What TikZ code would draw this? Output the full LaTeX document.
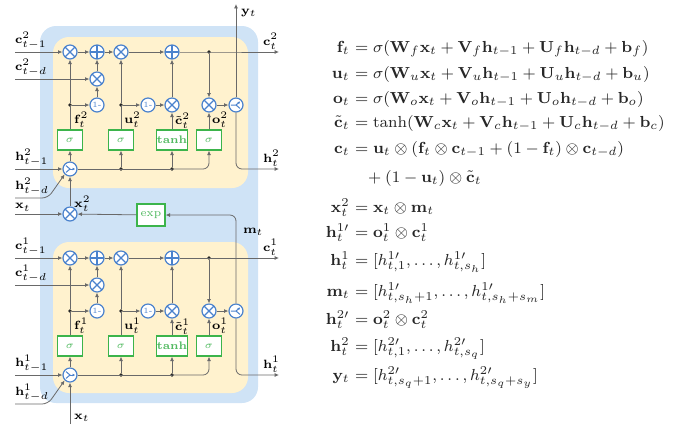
\documentclass[tikz,border=0pt]{standalone}
\usepackage{amsmath}
\usetikzlibrary{arrows.meta,calc}
\definecolor{bgblue}{RGB}{207,227,246}
\definecolor{cellyel}{RGB}{255,242,206}
\definecolor{opblue}{RGB}{74,130,205}
\definecolor{boxgreen}{RGB}{60,180,75}
\definecolor{txtgreen}{RGB}{80,185,95}
\definecolor{wire}{RGB}{105,105,105}
\tikzset{
  wirestyle/.style={draw=wire, line width=0.4pt},
  arr/.style={wirestyle, -{Latex[length=2.2pt,width=2pt]}},
  opc/.style={circle, draw=opblue, fill=white, line width=0.6pt, minimum size=7pt, inner sep=0pt},
  mul/.style={opc, path picture={\draw[opblue, line width=0.6pt]
      (path picture bounding box.north west) -- (path picture bounding box.south east)
      (path picture bounding box.north east) -- (path picture bounding box.south west);}},
  add/.style={opc, path picture={\draw[opblue, line width=0.6pt]
      (path picture bounding box.north) -- (path picture bounding box.south)
      (path picture bounding box.east) -- (path picture bounding box.west);}},
  merge/.style={opc, path picture={\draw[opblue, line width=0.5pt]
      ([shift={(-2pt,1.7pt)}]path picture bounding box.center) -- (path picture bounding box.center)
      -- ([shift={(-2pt,-1.7pt)}]path picture bounding box.center);
      \draw[opblue, line width=0.5pt, -{Latex[length=1.3pt,width=1.4pt]}]
      (path picture bounding box.center) -- ([shift={(2.6pt,0pt)}]path picture bounding box.center);}},
  split/.style={opc, path picture={\draw[opblue, line width=0.5pt]
      ([shift={(-2.6pt,0pt)}]path picture bounding box.center) -- (path picture bounding box.center)
      -- ([shift={(2pt,-1.7pt)}]path picture bounding box.center);
      \draw[opblue, line width=0.5pt, -{Latex[length=1.3pt,width=1.4pt]}]
      (path picture bounding box.center) -- ([shift={(2.1pt,1.8pt)}]path picture bounding box.center);}},
  one/.style={opc, text=opblue, font=\fontsize{4}{5}\selectfont},
  gate/.style={draw=boxgreen, fill=white, line width=0.6pt, minimum width=12.5pt, minimum height=10pt,
      inner sep=0pt, text=txtgreen, font=\fontsize{5.5}{6.5}\selectfont},
  dotn/.style={circle, fill=black!85, inner sep=0pt, minimum size=1.8pt},
  lbl/.style={font=\fontsize{5.6}{6.5}\selectfont, inner sep=0.3pt},
  eq/.style={font=\fontsize{8.3}{10}\selectfont, inner sep=0pt, text=black!85},
}
\begin{document}
\begin{tikzpicture}[x=0.5pt,y=-0.5pt]
\useasboundingbox (0,0) rectangle (679,425);
\fill[bgblue, rounded corners=8pt] (40,26) rectangle (258,403);
\fill[cellyel, rounded corners=8pt] (53,37) rectangle (248,188);
\fill[cellyel, rounded corners=8pt] (53,242) rectangle (248,393);

\foreach \k/\dy in {2/0,1/206} {
  \node[mul] (mA\k) at (70,52+\dy) {};
  \node[add] (pA\k) at (97,52+\dy) {};
  \node[mul] (mB\k) at (121,52+\dy) {};
  \node[add] (pB\k) at (172,52+\dy) {};
  \node[dotn] (dC\k) at (209,52+\dy) {};
  \node[mul] (mD\k) at (97,79+\dy) {};
  \node[one] (oF\k) at (97,105+\dy) {1-};
  \node[dotn] (dF\k) at (70,105+\dy) {};
  \node[dotn] (dU\k) at (121,105+\dy) {};
  \node[one] (oU\k) at (148,105+\dy) {1-};
  \node[mul] (mC\k) at (172,105+\dy) {};
  \node[mul] (mO\k) at (209,105+\dy) {};
  \node[split] (sp\k) at (236,105+\dy) {};
  \node[gate] (bf\k) at (70,140+\dy) {$\sigma$};
  \node[gate] (bu\k) at (121,140+\dy) {$\sigma$};
  \node[gate] (bt\k) at (172,140+\dy) {\textbf{tanh}};
  \node[gate] (bo\k) at (209,140+\dy) {$\sigma$};
  \node[merge] (mg\k) at (70,169+\dy) {};
  \node[dotn] (dhA\k) at (121,169+\dy) {};
  \node[dotn] (dhB\k) at (172,169+\dy) {};
  \coordinate (iC\k) at (15,52+\dy);
  \coordinate (iD\k) at (15,79+\dy);
  \coordinate (iH\k) at (15,169+\dy);
  \coordinate (iHd\k) at (15,198+\dy);
  \coordinate (kHd\k) at (48,198+\dy);
  \coordinate (oC\k) at (279,52+\dy);
  \coordinate (oH\k) at (279,169+\dy);
  % wires
  \draw[arr] (iC\k) -- (mA\k);
  \draw[arr] (mA\k) -- (pA\k);
  \draw[arr] (pA\k) -- (mB\k);
  \draw[arr] (mB\k) -- (pB\k);
  \draw[arr] (pB\k) -- (dC\k.center) -- (oC\k);
  \draw[arr] (dC\k) -- (mO\k);
  \draw[arr] (iD\k) -- (mD\k);
  \draw[arr] (mD\k) -- (pA\k);
  \draw[arr] (oF\k) -- (mD\k);
  \draw[arr] (dF\k) -- (oF\k);
  \draw[wirestyle] (bf\k) -- (dF\k.center);
  \draw[arr] (dF\k) -- (mA\k);
  \draw[wirestyle] (bu\k) -- (dU\k.center);
  \draw[arr] (dU\k) -- (mB\k);
  \draw[arr] (dU\k) -- (oU\k);
  \draw[arr] (oU\k) -- (mC\k);
  \draw[arr] (bt\k) -- (mC\k);
  \draw[arr] (mC\k) -- (pB\k);
  \draw[arr] (bo\k) -- (mO\k);
  \draw[arr] (mO\k) -- (sp\k);
  \draw[arr, rounded corners=3pt] (sp\k.south) |- (oH\k);
  \draw[arr] (iH\k) -- (mg\k);
  \draw[arr, rounded corners=3pt] (iHd\k) -- (kHd\k) -- (mg\k.south west);
  \draw[arr] (mg\k) -- (bf\k);
  \draw[wirestyle] (mg\k) -- (dhB\k.center);
  \draw[arr] (dhA\k) -- (bu\k);
  \draw[arr] (dhB\k) -- (bt\k);
  \draw[arr, rounded corners=3pt] (dhB\k.center) -| (bo\k.south);
  % labels
  \node[lbl, anchor=south west] (lcA\k) at (14,50+\dy) {$\mathbf{c}^{\k}_{t-1}$};
  \node[lbl, anchor=south west] (lcB\k) at (14,77+\dy) {$\mathbf{c}^{\k}_{t-d}$};
  \node[lbl, anchor=south west] (lhA\k) at (14,167+\dy) {$\mathbf{h}^{\k}_{t-1}$};
  \node[lbl, anchor=south west] (lhB\k) at (14,196+\dy) {$\mathbf{h}^{\k}_{t-d}$};
  \node[lbl, anchor=south west] (lco\k) at (262,50+\dy) {$\mathbf{c}^{\k}_{t}$};
  \node[lbl, anchor=south west] (lho\k) at (262,167+\dy) {$\mathbf{h}^{\k}_{t}$};
  \node[lbl, anchor=west] (lf\k) at (73,120+\dy) {$\mathbf{f}^{\k}_{t}$};
  \node[lbl, anchor=west] (lu\k) at (123,120+\dy) {$\mathbf{u}^{\k}_{t}$};
  \node[lbl, anchor=west] (lct\k) at (174,121+\dy) {$\tilde{\mathbf{c}}^{\k}_{t}$};
  \node[lbl, anchor=west] (lo\k) at (211,120+\dy) {$\mathbf{o}^{\k}_{t}$};
}

% middle
\node[mul] (xm) at (70,214) {};
\node[gate, minimum width=14pt, minimum height=11pt] (exp) at (151,215) {exp};
\coordinate (ix) at (15,214);
\coordinate (yt) at (236,4);
\coordinate (xb) at (70,424);
\draw[arr] (ix) -- (xm);
\draw[arr] (exp) -- (xm);
\draw[arr] (xm) -- (mg2);
\draw[arr, rounded corners=3pt] (sp1.north) |- (exp.east);
\draw[arr] (sp2.north) -- (yt);
\draw[arr] (xb) -- (mg1);
\node[lbl, anchor=south west] (lx) at (14,212) {$\mathbf{x}_{t}$};
\node[lbl, anchor=west] (lxx) at (73,204) {$\mathbf{x}^{2}_{t}$};
\node[lbl, anchor=west] (lm) at (242,232) {$\mathbf{m}_{t}$};
\node[lbl, anchor=west] (ly) at (240,13) {$\mathbf{y}_{t}$};
\node[lbl, anchor=west] (lxb) at (73,418) {$\mathbf{x}_{t}$};

% equations
\def\ex{350}
\node[eq, anchor=base east] (e1l) at (\ex,52) {$\mathbf{f}_t$};
\node[eq, anchor=base west] (e1r) at (\ex,52) {${}=\sigma(\mathbf{W}_f\mathbf{x}_t+\mathbf{V}_f\mathbf{h}_{t-1}+\mathbf{U}_f\mathbf{h}_{t-d}+\mathbf{b}_f)$};
\node[eq, anchor=base east] (e2l) at (\ex,78) {$\mathbf{u}_t$};
\node[eq, anchor=base west] (e2r) at (\ex,78) {${}=\sigma(\mathbf{W}_u\mathbf{x}_t+\mathbf{V}_u\mathbf{h}_{t-1}+\mathbf{U}_u\mathbf{h}_{t-d}+\mathbf{b}_u)$};
\node[eq, anchor=base east] (e3l) at (\ex,103) {$\mathbf{o}_t$};
\node[eq, anchor=base west] (e3r) at (\ex,103) {${}=\sigma(\mathbf{W}_o\mathbf{x}_t+\mathbf{V}_o\mathbf{h}_{t-1}+\mathbf{U}_o\mathbf{h}_{t-d}+\mathbf{b}_o)$};
\node[eq, anchor=base east] (e4l) at (\ex,127) {$\tilde{\mathbf{c}}_t$};
\node[eq, anchor=base west] (e4r) at (\ex,127) {${}=\tanh(\mathbf{W}_c\mathbf{x}_t+\mathbf{V}_c\mathbf{h}_{t-1}+\mathbf{U}_c\mathbf{h}_{t-d}+\mathbf{b}_c)$};
\node[eq, anchor=base east] (e5l) at (\ex,153) {$\mathbf{c}_t$};
\node[eq, anchor=base west] (e5r) at (\ex,153) {${}=\mathbf{u}_t\otimes(\mathbf{f}_t\otimes\mathbf{c}_{t-1}+(1-\mathbf{f}_t)\otimes\mathbf{c}_{t-d})$};
\node[eq, anchor=base west] (e6r) at (364,182) {${}+(1-\mathbf{u}_t)\otimes\tilde{\mathbf{c}}_t$};
\node[eq, anchor=base east] (e7l) at (\ex,212) {$\mathbf{x}^2_t$};
\node[eq, anchor=base west] (e7r) at (\ex,212) {${}=\mathbf{x}_t\otimes\mathbf{m}_t$};
\node[eq, anchor=base east] (e8l) at (\ex,237) {$\mathbf{h}^{1\prime}_t$};
\node[eq, anchor=base west] (e8r) at (\ex,237) {${}=\mathbf{o}^1_t\otimes\mathbf{c}^1_t$};
\node[eq, anchor=base east] (e9l) at (\ex,265) {$\mathbf{h}^{1}_t$};
\node[eq, anchor=base west] (e9r) at (\ex,265) {${}=[h^{1\prime}_{t,1},\ldots,h^{1\prime}_{t,s_h}]$};
\node[eq, anchor=base east] (e10l) at (\ex,296) {$\mathbf{m}_t$};
\node[eq, anchor=base west] (e10r) at (\ex,296) {${}=[h^{1\prime}_{t,s_h+1},\ldots,h^{1\prime}_{t,s_h+s_m}]$};
\node[eq, anchor=base east] (e11l) at (\ex,324) {$\mathbf{h}^{2\prime}_t$};
\node[eq, anchor=base west] (e11r) at (\ex,324) {${}=\mathbf{o}^2_t\otimes\mathbf{c}^2_t$};
\node[eq, anchor=base east] (e12l) at (\ex,351) {$\mathbf{h}^{2}_t$};
\node[eq, anchor=base west] (e12r) at (\ex,351) {${}=[h^{2\prime}_{t,1},\ldots,h^{2\prime}_{t,s_q}]$};
\node[eq, anchor=base east] (e13l) at (\ex,380) {$\mathbf{y}_t$};
\node[eq, anchor=base west] (e13r) at (\ex,380) {${}=[h^{2\prime}_{t,s_q+1},\ldots,h^{2\prime}_{t,s_q+s_y}]$};
\end{tikzpicture}
\end{document}
